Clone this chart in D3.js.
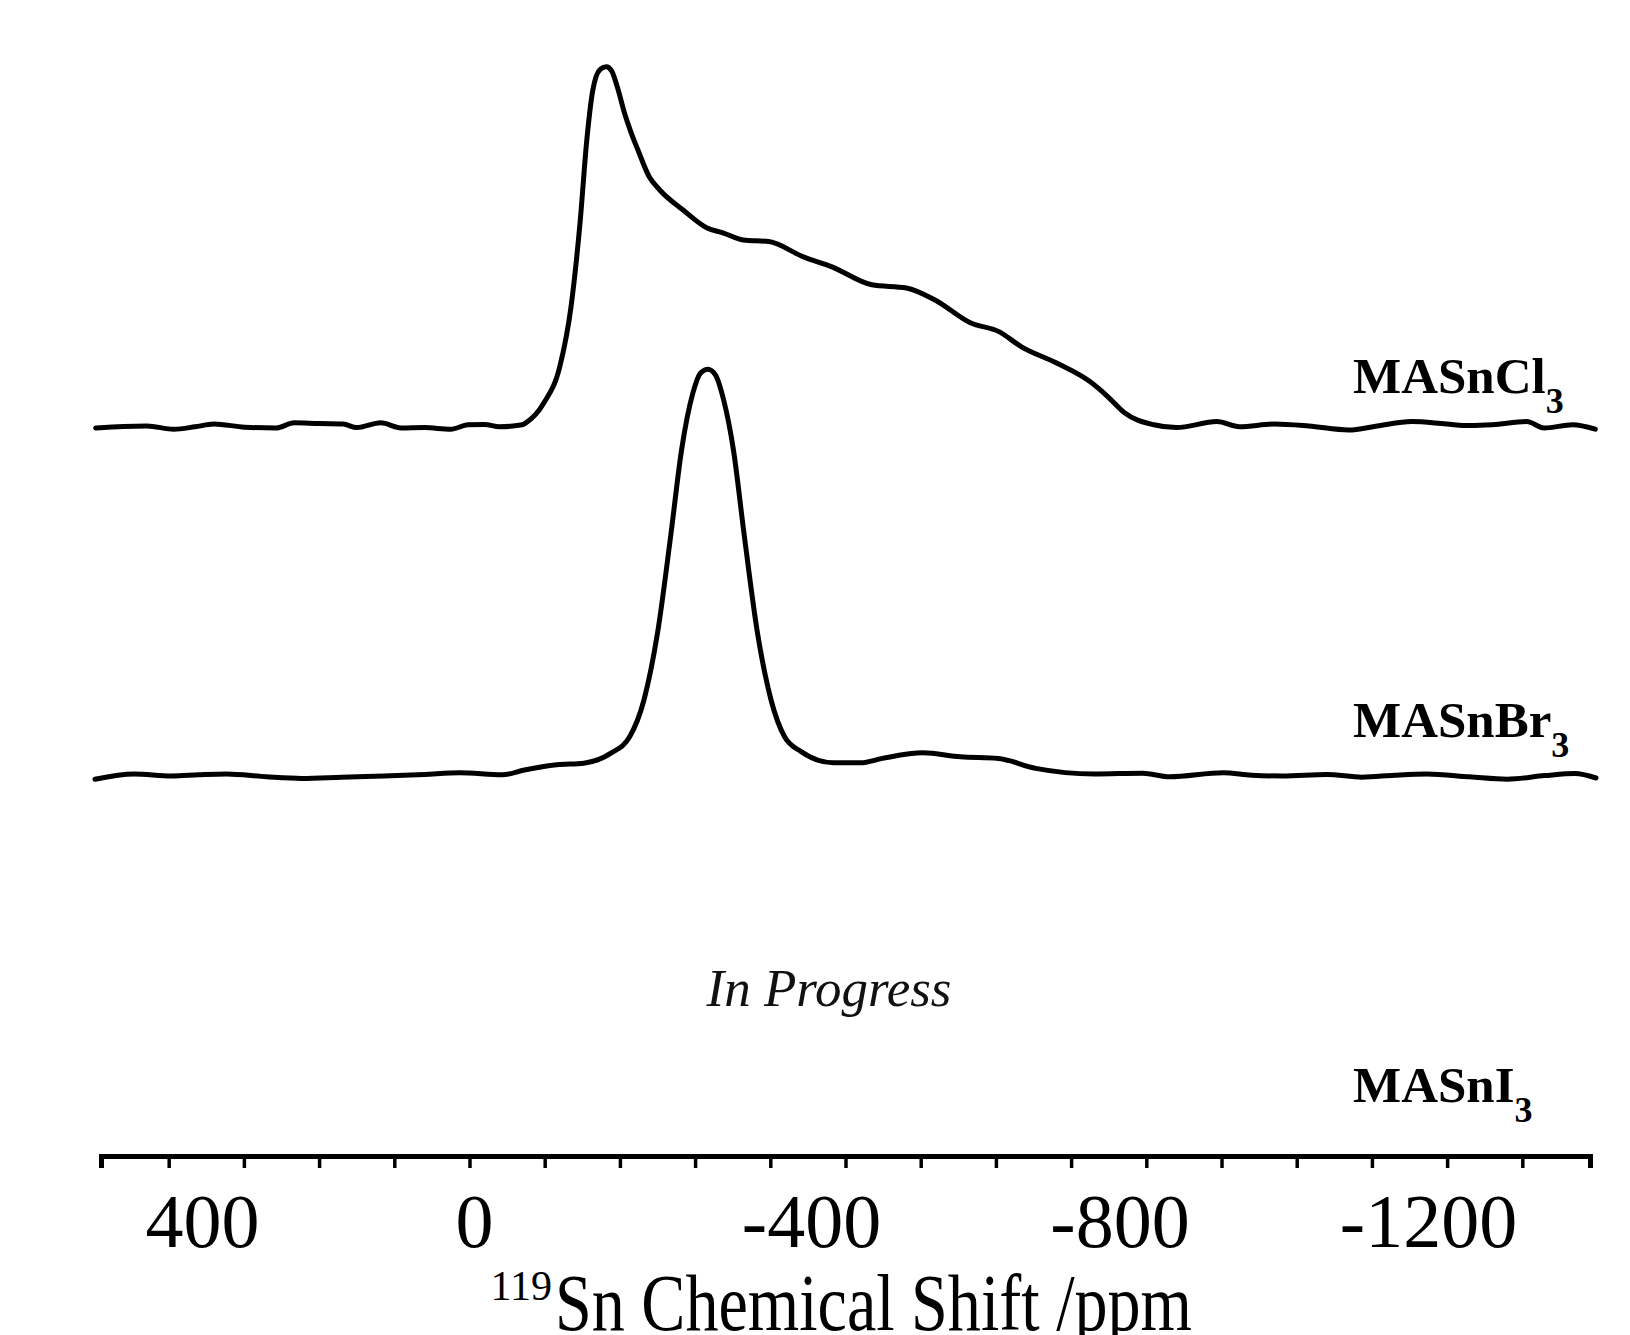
<!DOCTYPE html>
<html lang="en">
<head>
<meta charset="UTF-8">
<title>119Sn MAS NMR</title>
<script src="https://d3js.org/d3.v7.min.js"></script>
<style>
	body { margin: 0; background: #fff; }
	svg text { font-family: "Liberation Serif", "Times New Roman", serif; }
</style>
</head>
<body>
<script>
	// ---- spectra (ppm, normalised intensity) ----
	var clPpm = [497, 460, 429, 393, 365, 340, 299, 257, 233, 200, 168, 150, 118, 91, 60, 25, 2, -20, -40, -70, -75, -99, -120, -135, -147,
		-156, -164, -174, -182, -189, -197, -206, -215, -224, -239, -253, -284, -316, -337, -364, -398, -444, -482, -535, -581, -619, -666,
		-704, -734, -780, -825, -849, -871, -910, -940, -994, -1024, -1070, -1116, -1169, -1207, -1253, -1299, -1330, -1360, -1406, -1429, -1467, -1497];
	var clInt = [-0.005, -0.001, 0, -0.008, -0.002, 0.005, -0.003, -0.005, 0.008, 0.006, 0.005, -0.004, 0.008, -0.005, -0.004, -0.008, 0.003, 0.004, -0.002, 0.003, 0.008, 0.058, 0.148, 0.298, 0.508,
		0.715, 0.84, 0.892, 0.898, 0.888, 0.845, 0.783, 0.733, 0.69, 0.623, 0.59, 0.54, 0.495, 0.483, 0.465, 0.461, 0.423, 0.398, 0.353, 0.345, 0.315, 0.258,
		0.236, 0.198, 0.158, 0.111, 0.073, 0.033, 0.003, -0.004, 0.011, -0.002, 0.005, 0, -0.01, 0, 0.011, 0.005, 0.001, 0.003, 0.011, -0.005, 0.003, -0.008];

	var brPpm = [498, 446, 396, 360, 323, 270, 223, 170, 114, 60, 13, -44, -73, -116, -152, -188, -213, -232, -250, -268, -282, -297, -307, -317,
		-327, -338, -351, -365, -383, -401, -419, -441, -484, -520, -549, -603, -653, -703, -753, -831, -895, -931, -1002, -1040, -1081,
		-1140, -1187, -1230, -1273, -1330, -1380, -1430, -1470, -1498];
	var brInt = [-0.008, 0.005, 0, 0.003, 0.005, -0.002, -0.006, -0.003, 0, 0.004, 0.008, 0.003, 0.015, 0.028, 0.032, 0.057, 0.098, 0.19, 0.357, 0.607, 0.815, 0.957, 1.007, 1.017,
		1.003, 0.94, 0.815, 0.607, 0.357, 0.19, 0.098, 0.061, 0.033, 0.033, 0.044, 0.058, 0.048, 0.044, 0.019, 0.005, 0.007, -0.002, 0.008, 0.002, 0,
		0.004, -0.003, 0.002, 0.005, -0.002, -0.008, 0.001, 0.006, -0.005];

	var minorTicks = d3.range(400, -1401, -100);
	var tickLabels = [400, 0, -400, -800, -1200];
	var sampleNames = ['MASnCl', 'MASnBr', 'MASnI'];
	var axisTitle = 'Sn Chemical Shift /ppm';
	var isotope = '119';
	var pendingNote = 'In Progress';

	var width = 1630, height = 1335;
	var font = '"Liberation Serif", "Times New Roman", serif';

	var svg = d3.select('body').append('svg')
		.attr('width', width)
		.attr('height', height);

	//----scales----
	var x = d3.scaleLinear().domain([490, -1490]).range([101, 1590]);
	// the printed numbers sit a little off their tick marks in the figure
	var xLabel = d3.scaleLinear().domain([400, 0, -400, -1200]).range([202, 474, 811, 1428]);

	function yScale(base) {
		return d3.scaleLinear().domain([0, 1]).range([base, base - 400]);
	}

	var series = [
		{ppm: clPpm, val: clInt, y: yScale(426)},
		{ppm: brPpm, val: brInt, y: yScale(776)}
	];

	series.forEach(function (s) {
		var pts = s.ppm.map(function (p, i) { return [p, s.val[i]]; });
		var line = d3.line()
			.x(function (d) { return x(d[0]); })
			.y(function (d) { return s.y(d[1]); })
			.curve(d3.curveMonotoneX);
		svg.append('path')
			.datum(pts)
			.attr('d', line)
			.attr('fill', 'none')
			.attr('stroke', '#000')
			.attr('stroke-width', 5)
			.attr('stroke-linejoin', 'round')
			.attr('stroke-linecap', 'round');
	});

	//----axis----
	var axis = svg.append('g')
		.attr('transform', 'translate(0,1156)')
		.call(d3.axisBottom(x).tickValues(minorTicks).tickSize(12).tickSizeOuter(12).tickFormat(''));
	axis.select('.domain').attr('stroke-width', 5);
	axis.selectAll('.tick line').attr('stroke-width', 3.5);

	var labels = svg.append('g')
		.attr('transform', 'translate(0,1247)')
		.call(d3.axisBottom(xLabel).tickValues(tickLabels).tickSize(0).tickPadding(0)
			.tickFormat(function (d) { return String(d); }));
	labels.select('.domain').remove();
	labels.attr('font-family', font).attr('font-size', 76);
	labels.selectAll('.tick text').attr('dy', 0).attr('y', 0).attr('fill', '#000');

	svg.append('text')
		.attr('x', 552).attr('y', 1300)
		.attr('text-anchor', 'end')
		.attr('font-size', 42)
		.text(isotope);
	svg.append('text')
		.attr('x', 555).attr('y', 1330)
		.attr('font-size', 80)
		.attr('textLength', 637)
		.attr('lengthAdjust', 'spacingAndGlyphs')
		.text(axisTitle);

	//----sample labels----
	var labelBase = [393, 737, 1102];
	sampleNames.forEach(function (n, i) {
		var t = svg.append('text')
			.attr('x', 1353).attr('y', labelBase[i])
			.attr('font-size', 51)
			.attr('font-weight', 'bold')
			.text(n);
		t.append('tspan')
			.attr('dy', 20)
			.attr('font-size', 36)
			.text('3');
	});

	svg.append('text')
		.attr('x', 829).attr('y', 1006)
		.attr('text-anchor', 'middle')
		.attr('font-size', 53)
		.attr('font-style', 'italic')
		.attr('fill', '#111')
		.text(pendingNote);
</script>
</body>
</html>
